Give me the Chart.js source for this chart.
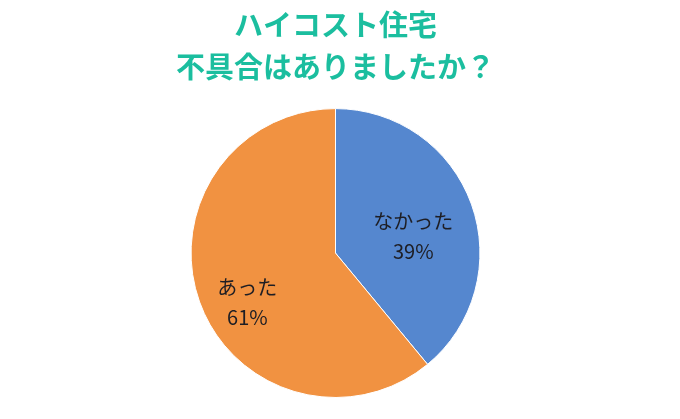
<!DOCTYPE html>
<html lang="ja">
<head>
    <meta charset="UTF-8">
    <title>ハイコスト住宅 不具合</title>
    <script src="https://cdn.jsdelivr.net/npm/chart.js"></script>
    <style>
        html, body { margin: 0; padding: 0; background: #fff; }
        #wrap { width: 680px; height: 419px; }
    </style>
</head>
<body>
    <div id="wrap"><canvas id="chart"></canvas></div>

    <script>
        const titleLines = ['ハイコスト住宅', '不具合はありましたか？'];
        const categories = ['なかった', 'あった'];
        const percents = [39, 61];
        const sliceColors = ['#5587CF', '#F19241'];

        // label placement: fraction of radius along the mid angle, plus a small nudge
        const labelPlace = [
            { f: 0.55, dx: 3, dy: 10 },
            { f: 0.70, dx: 7, dy: 15 }
        ];

        const sliceLabels = {
            id: 'sliceLabels',
            afterDatasetsDraw(chart) {
                const ctx = chart.ctx;
                const meta = chart.getDatasetMeta(0);
                ctx.save();
                ctx.fillStyle = '#1e1e24';
                ctx.font = '20px "Noto Sans CJK JP", "Noto Sans", sans-serif';
                ctx.textAlign = 'center';
                ctx.textBaseline = 'middle';
                meta.data.forEach((arc, i) => {
                    const p = arc.getProps(['x', 'y', 'startAngle', 'endAngle', 'outerRadius'], true);
                    const mid = (p.startAngle + p.endAngle) / 2;
                    const r = p.outerRadius * labelPlace[i].f;
                    const x = p.x + Math.cos(mid) * r + labelPlace[i].dx;
                    const y = p.y + Math.sin(mid) * r + labelPlace[i].dy;
                    ctx.fillText(categories[i], x, y - 15);
                    ctx.fillText(percents[i] + '%', x, y + 15);
                });
                ctx.restore();
            }
        };

        const ctx = document.getElementById('chart').getContext('2d');
        const chart = new Chart(ctx, {
            type: 'pie',
            data: {
                labels: categories,
                datasets: [{
                    data: percents,
                    backgroundColor: sliceColors,
                    borderColor: '#ffffff',
                    borderWidth: 1
                }]
            },
            options: {
                responsive: true,
                maintainAspectRatio: false,
                animation: false,
                layout: {
                    padding: { top: 4, bottom: 21, left: 0, right: 9 }
                },
                plugins: {
                    legend: { display: false },
                    tooltip: { enabled: false },
                    title: {
                        display: true,
                        text: titleLines,
                        color: '#1BBE9F',
                        font: {
                            family: '"Noto Sans CJK JP", sans-serif',
                            size: 29,
                            weight: 'bold',
                            lineHeight: 1.45
                        },
                        padding: { top: 0, bottom: 20 }
                    }
                }
            },
            plugins: [sliceLabels]
        });
    </script>
</body>
</html>
